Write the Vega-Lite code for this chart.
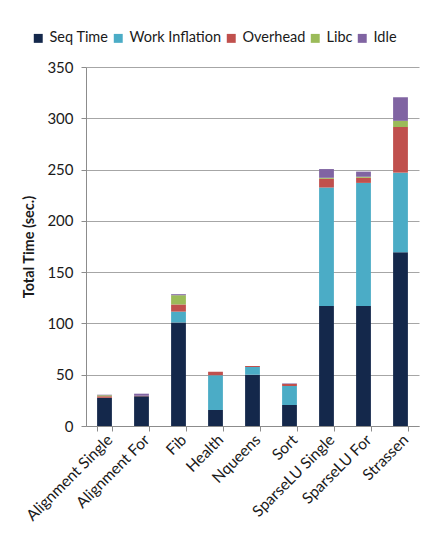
{
  "$schema": "https://vega.github.io/schema/vega-lite/v6.json",
  "width": 333,
  "height": 359,
  "autosize": {"type": "none"},
  "padding": {"left": 86, "top": 67, "right": 19, "bottom": 129},
  "background": "white",
  "config": {
    "font": "Lato",
    "view": {"stroke": null},
    "axis": {"labelFont": "Lato", "titleFont": "Lato", "labelColor": "#1a1a1a", "titleColor": "#1a1a1a"}
  },
  "data": {
    "values": [
      {"bench": "Alignment Single", "part": "Seq Time", "k": 1, "value": 27.5},
      {"bench": "Alignment Single", "part": "Overhead", "k": 3, "value": 1.5},
      {"bench": "Alignment Single", "part": "Libc", "k": 4, "value": 1},
      {"bench": "Alignment Single", "part": "Idle", "k": 5, "value": 0.5},
      {"bench": "Alignment For", "part": "Seq Time", "k": 1, "value": 29},
      {"bench": "Alignment For", "part": "Overhead", "k": 3, "value": 0.5},
      {"bench": "Alignment For", "part": "Idle", "k": 5, "value": 2},
      {"bench": "Fib", "part": "Seq Time", "k": 1, "value": 101},
      {"bench": "Fib", "part": "Work Inflation", "k": 2, "value": 10.5},
      {"bench": "Fib", "part": "Overhead", "k": 3, "value": 7},
      {"bench": "Fib", "part": "Libc", "k": 4, "value": 9},
      {"bench": "Fib", "part": "Idle", "k": 5, "value": 1},
      {"bench": "Health", "part": "Seq Time", "k": 1, "value": 15.5},
      {"bench": "Health", "part": "Work Inflation", "k": 2, "value": 34},
      {"bench": "Health", "part": "Overhead", "k": 3, "value": 3.5},
      {"bench": "Nqueens", "part": "Seq Time", "k": 1, "value": 50},
      {"bench": "Nqueens", "part": "Work Inflation", "k": 2, "value": 7.5},
      {"bench": "Nqueens", "part": "Overhead", "k": 3, "value": 1},
      {"bench": "Sort", "part": "Seq Time", "k": 1, "value": 20.5},
      {"bench": "Sort", "part": "Work Inflation", "k": 2, "value": 18.5},
      {"bench": "Sort", "part": "Overhead", "k": 3, "value": 2},
      {"bench": "Sort", "part": "Idle", "k": 5, "value": 0.5},
      {"bench": "SparseLU Single", "part": "Seq Time", "k": 1, "value": 117},
      {"bench": "SparseLU Single", "part": "Work Inflation", "k": 2, "value": 115.5},
      {"bench": "SparseLU Single", "part": "Overhead", "k": 3, "value": 8.5},
      {"bench": "SparseLU Single", "part": "Libc", "k": 4, "value": 1},
      {"bench": "SparseLU Single", "part": "Idle", "k": 5, "value": 8.5},
      {"bench": "SparseLU For", "part": "Seq Time", "k": 1, "value": 117},
      {"bench": "SparseLU For", "part": "Work Inflation", "k": 2, "value": 120},
      {"bench": "SparseLU For", "part": "Overhead", "k": 3, "value": 5},
      {"bench": "SparseLU For", "part": "Libc", "k": 4, "value": 1},
      {"bench": "SparseLU For", "part": "Idle", "k": 5, "value": 5},
      {"bench": "Strassen", "part": "Seq Time", "k": 1, "value": 169.5},
      {"bench": "Strassen", "part": "Work Inflation", "k": 2, "value": 77.5},
      {"bench": "Strassen", "part": "Overhead", "k": 3, "value": 44.5},
      {"bench": "Strassen", "part": "Libc", "k": 4, "value": 6},
      {"bench": "Strassen", "part": "Idle", "k": 5, "value": 23}
    ]
  },
  "mark": {"type": "bar"},
  "encoding": {
    "x": {
      "field": "bench",
      "type": "nominal",
      "sort": null,
      "scale": {"paddingInner": 0.6, "paddingOuter": 0.3},
      "axis": {
        "title": null,
        "labelAngle": -45,
        "labelFontSize": 15.5,
        "labelPadding": 1,
        "tickBand": "extent",
        "tickSize": 5,
        "tickColor": "#8c8c8c",
        "domainColor": "#8c8c8c",
        "grid": false
      }
    },
    "y": {
      "field": "value",
      "type": "quantitative",
      "aggregate": "sum",
      "stack": "zero",
      "scale": {"domain": [0, 350], "nice": false},
      "axis": {
        "title": "Total Time (sec.)",
        "titleFontSize": 14.5,
        "titleFontWeight": "bold",
        "titlePadding": 10,
        "values": [0, 50, 100, 150, 200, 250, 300, 350],
        "labelFontSize": 15,
        "labelPadding": 8,
        "tickSize": 5,
        "tickColor": "#8c8c8c",
        "domainColor": "#8c8c8c",
        "gridColor": "#a6a6a6",
        "gridWidth": 1
      }
    },
    "color": {
      "field": "part",
      "type": "nominal",
      "scale": {
        "domain": ["Seq Time", "Work Inflation", "Overhead", "Libc", "Idle"],
        "range": ["#14284b", "#4bacc6", "#c0504d", "#9bbb59", "#8064a2"]
      },
      "legend": {
        "title": null,
        "orient": "none",
        "direction": "horizontal",
        "legendX": -55,
        "legendY": -36,
        "symbolType": "square",
        "symbolSize": 80,
        "symbolStrokeWidth": 0,
        "symbolOpacity": 1,
        "labelFontSize": 14.5,
        "labelOffset": 4,
        "columnPadding": 2,
        "labelColor": "#1a1a1a"
      }
    },
    "order": {"field": "k", "type": "quantitative", "sort": "ascending"}
  }
}
